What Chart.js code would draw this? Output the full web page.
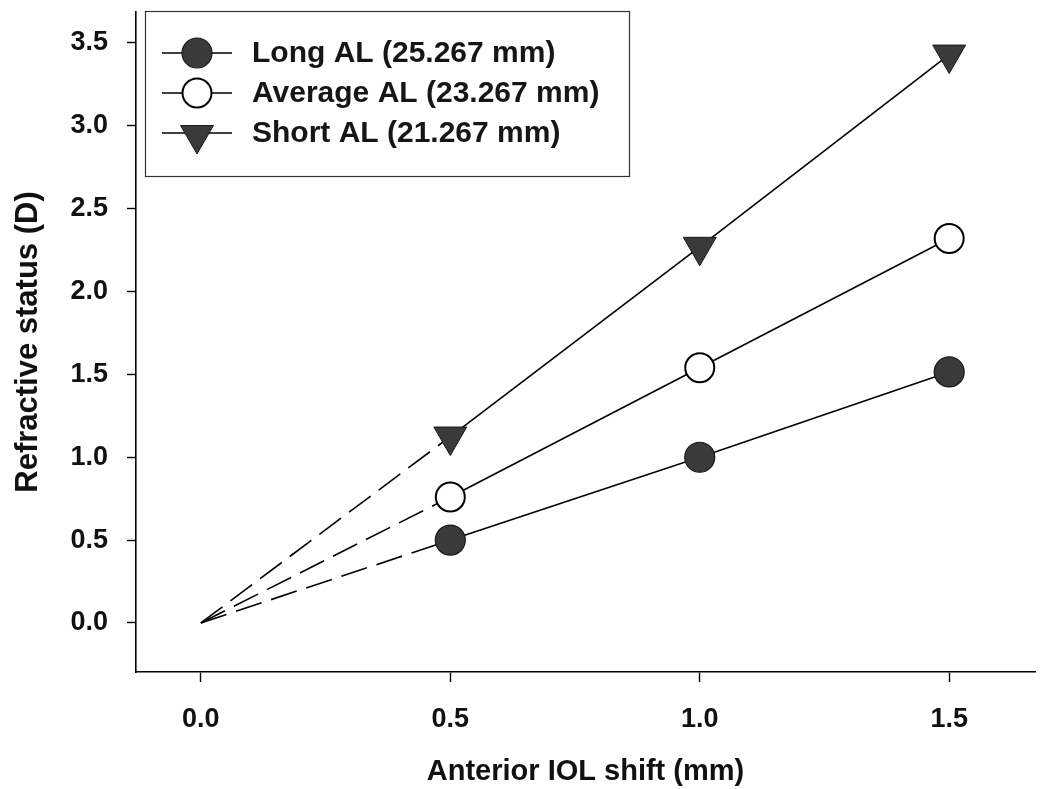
<!DOCTYPE html>
<html>
<head>
<meta charset="utf-8">
<script src="https://cdn.jsdelivr.net/npm/chart.js@4.4.1/dist/chart.umd.min.js"></script>
<style>
  html, body { margin: 0; padding: 0; background: #ffffff; }
  #wrap { width: 1050px; height: 789px; position: relative; }
</style>
</head>
<body>
<div id="wrap"><canvas id="c" width="1050" height="789"></canvas></div>
<script>
// ---- data ----
const xValues = [0, 0.5, 1.0, 1.5];            // anterior IOL shift (mm)
const longAL = [0, 0.50, 1.00, 1.515];         // Long AL (25.267 mm)
const averageAL = [0, 0.76, 1.54, 2.32];       // Average AL (23.267 mm)
const shortAL = [0, 1.125, 2.27, 3.43];        // Short AL (21.267 mm)
const seriesLabels = ['Long AL (25.267 mm)', 'Average AL (23.267 mm)', 'Short AL (21.267 mm)'];
const xTickValues = [0, 0.5, 1.0, 1.5];
const yTickValues = [0, 0.5, 1.0, 1.5, 2.0, 2.5, 3.0, 3.5];

const FONT = "'Liberation Sans', Arial, Helvetica, sans-serif";
const DARK = '#3a3a3a';

function pts(ys) { return xValues.map((x, i) => ({ x: x, y: ys[i] })); }

function makeSet(label, ys, style) {
  return {
    label: label,
    data: pts(ys),
    borderColor: '#000',
    borderWidth: 1.6,
    fill: false,
    tension: 0,
    clip: false,
    pointStyle: style.pointStyle,
    rotation: style.rotation || 0,
    pointRadius: ctx => ctx.dataIndex === 0 ? 0 : style.radius,
    pointHoverRadius: ctx => ctx.dataIndex === 0 ? 0 : style.radius,
    pointBackgroundColor: style.bg,
    pointBorderColor: style.border,
    pointBorderWidth: style.bw,
    legendRadius: style.radius,
    segment: {
      borderDash: ctx => ctx.p0DataIndex === 0 ? [27, 10] : undefined
    }
  };
}

const datasets = [
  makeSet(seriesLabels[0], longAL, { pointStyle: 'circle', radius: 15, bg: DARK, border: '#1a1a1a', bw: 1.2 }),
  makeSet(seriesLabels[1], averageAL, { pointStyle: 'circle', radius: 14.5, bg: '#ffffff', border: '#000', bw: 2 }),
  makeSet(seriesLabels[2], shortAL, { pointStyle: 'triangle', rotation: 180, radius: 19, bg: DARK, border: '#1a1a1a', bw: 1 })
];

const legendBox = {
  id: 'legendBox',
  afterDraw(chart) {
    const ctx = chart.ctx;
    ctx.save();
    ctx.strokeStyle = '#333';
    ctx.lineWidth = 1.2;
    ctx.strokeRect(145.5, 11.5, 484, 165);
    const rowY = [53, 93, 133];
    chart.data.datasets.forEach((ds, i) => {
      const y = rowY[i];
      ctx.beginPath();
      ctx.strokeStyle = '#000';
      ctx.lineWidth = 1.6;
      ctx.moveTo(162, y);
      ctx.lineTo(232, y);
      ctx.stroke();
      ctx.fillStyle = ds.pointBackgroundColor;
      ctx.strokeStyle = ds.pointBorderColor;
      ctx.lineWidth = ds.pointBorderWidth;
      Chart.helpers.drawPoint(ctx, {
        pointStyle: ds.pointStyle,
        rotation: ds.rotation,
        radius: ds.legendRadius,
        borderWidth: ds.pointBorderWidth
      }, 197, ds.pointStyle === 'triangle' ? y + 2 : y);
      ctx.fillStyle = '#161616';
      ctx.font = 'bold 30px ' + FONT;
      ctx.textAlign = 'left';
      ctx.textBaseline = 'middle';
      ctx.fillText(ds.label, 252, y + 1);
    });
    ctx.restore();
  }
};

function noPad(s) {
  s.paddingTop = 0; s.paddingBottom = 0; s.paddingLeft = 0; s.paddingRight = 0;
}

new Chart(document.getElementById('c'), {
  type: 'line',
  data: { datasets: datasets },
  plugins: [legendBox],
  options: {
    responsive: false,
    animation: false,
    events: [],
    layout: { autoPadding: false, padding: { top: 12, right: 15, left: 0, bottom: 0 } },
    plugins: { legend: { display: false }, tooltip: { enabled: false } },
    scales: {
      x: {
        type: 'linear',
        min: -0.13,
        max: 1.672,
        afterFit: s => { s.height = 117; noPad(s); },
        afterBuildTicks: s => { s.ticks = xTickValues.map(v => ({ value: v })); },
        grid: { display: true, drawOnChartArea: false, drawTicks: true, tickLength: 10, color: '#000', tickWidth: 1.4 },
        border: { display: true, color: '#000', width: 1.6 },
        ticks: {
          padding: 21,
          color: '#111',
          font: { family: FONT, size: 27, weight: 'bold' },
          callback: v => Number(v).toFixed(1)
        },
        title: {
          display: true,
          text: 'Anterior IOL shift (mm)',
          color: '#111',
          font: { family: FONT, size: 29, weight: 'bold' },
          padding: { top: 0, bottom: 0 }
        }
      },
      y: {
        type: 'linear',
        min: -0.296,
        max: 3.687,
        afterFit: s => { s.width = 136; noPad(s); },
        afterBuildTicks: s => { s.ticks = yTickValues.map(v => ({ value: v })); },
        grid: { display: true, drawOnChartArea: false, drawTicks: true, tickLength: 9, color: '#000', tickWidth: 1.4 },
        border: { display: true, color: '#000', width: 1.6 },
        ticks: {
          padding: 19,
          color: '#111',
          font: { family: FONT, size: 27, weight: 'bold' },
          callback: v => Number(v).toFixed(1)
        },
        title: {
          display: true,
          text: 'Refractive status (D)',
          color: '#111',
          font: { family: FONT, size: 31, weight: 'bold' },
          padding: { top: 10, bottom: 0 }
        }
      }
    }
  }
});
</script>
</body>
</html>
